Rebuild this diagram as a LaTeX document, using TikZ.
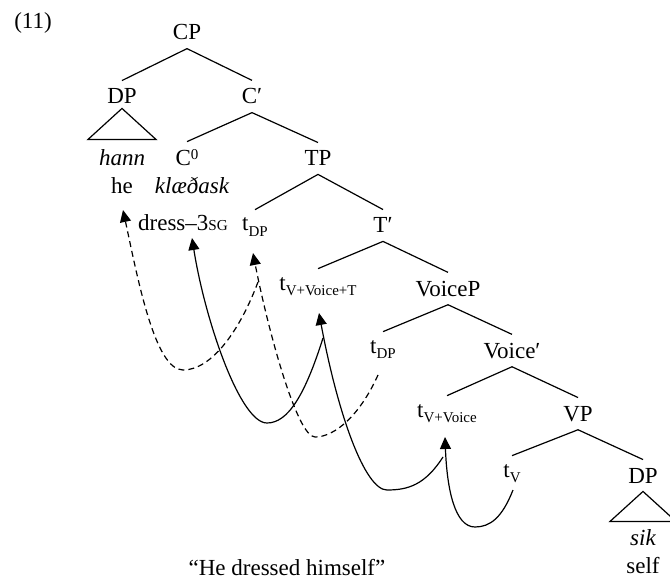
\documentclass[tikz,border=0pt]{standalone}
\usepackage{fontspec}
\setmainfont{Liberation Serif}
\usetikzlibrary{arrows.meta,calc}
\newcommand\sbs[1]{\raisebox{-2.6pt}{\fontsize{7.5}{8}\selectfont #1}}
\newcommand\sps[1]{\raisebox{3pt}{\fontsize{7.5}{8}\selectfont #1}}
\newcommand\smcap[1]{{\fontsize{7.6}{8}\selectfont #1}}
\begin{document}
\begin{tikzpicture}[x=0.5pt,y=-0.5pt,
  lab/.style={anchor=base,inner xsep=0pt,inner ysep=4pt,font=\fontsize{11.5}{13}\selectfont},
  edge/.style={line width=0.6pt},
  mov/.style={line width=0.6pt,-{Triangle[length=6pt,width=5.5pt]}},
  movd/.style={mov,dash pattern=on 3pt off 2pt}]
\path[use as bounding box] (0,0) rectangle (670,583);

\node[lab] (ex) at (33,29) {(11)};
\node[lab] (CP) at (187,40) {CP};
\node[lab] (DP1) at (122,104) {DP};
\node[lab] (Cbar) at (252,104) {C′};
\node[lab] (hann) at (122,166) {\itshape hann};
\node[lab] (C0) at (187,166) {C\sps{0}};
\node[lab] (TP) at (318,166) {TP};
\node[lab] (he) at (122,194) {he};
\node[lab] (kl) at (192,194) {\itshape klæðask};
\node[lab] (dress) at (183,230) {dress–3\smcap{SG}};
\node[lab] (tDPa) at (255,231) {t\sbs{DP}};
\node[lab] (Tbar) at (383,233) {T′};
\node[lab] (tVVT) at (318,290) {t\sbs{V+Voice+T}};
\node[lab] (VoiceP) at (448,296) {VoiceP};
\node[lab] (tDPb) at (383,353) {t\sbs{DP}};
\node[lab] (Voicebar) at (512,358) {Voice′};
\node[lab] (tVV) at (447,417) {t\sbs{V+Voice}};
\node[lab] (VP) at (578,421) {VP};
\node[lab] (tV) at (512,477) {t\sbs{V}};
\node[lab] (DP2) at (643,483) {DP};
\node[lab] (sik) at (643,545) {\itshape sik};
\node[lab] (self) at (643,573) {self};
\node[lab] (gloss) at (287,575) {“He dressed himself”};

% tree edges
\draw[edge] (CP.south) -- (DP1.north);
\draw[edge] (CP.south) -- (Cbar.north);
\draw[edge] (Cbar.south) -- (C0.north);
\draw[edge] (Cbar.south) -- (TP.north);
\draw[edge] (TP.south) -- (tDPa.north);
\draw[edge] (TP.south) -- (Tbar.north);
\draw[edge] (Tbar.south) -- (tVVT.north);
\draw[edge] (Tbar.south) -- (VoiceP.north);
\draw[edge] (VoiceP.south) -- (tDPb.north);
\draw[edge] (VoiceP.south) -- (Voicebar.north);
\draw[edge] (Voicebar.south) -- (tVV.north);
\draw[edge] (Voicebar.south) -- (VP.north);
\draw[edge] (VP.south) -- (tV.north);
\draw[edge] (VP.south) -- (DP2.north);
\draw[edge] ($(DP1.south)+(0,-4)$) -- ++(-34,31) -- ++(68,0) -- cycle;
\draw[edge] (DP2.south) -- ++(-33,30) -- ++(66,0) -- cycle;

% movement
\coordinate (bA) at (315,437);
\coordinate (bB) at (183,370);
\coordinate (bC) at (267,423);
\coordinate (bD) at (387,490);
\coordinate (bE) at (475,527);
\draw[movd] ($(tDPb.base)+(-5,22)$) .. controls (360,415) and (335,437) .. (bA)
  .. controls (297,437) and (268,330) .. ($(tDPa.base)+(-2,22)$);
\draw[movd] ($(tDPa.base)+(3,51)$) .. controls (240,330) and (212,370) .. (bB)
  .. controls (155,370) and (138,280) .. ($(he.base)+(1,16)$);
\draw[mov] ($(tVVT.base)+(5,48)$) .. controls (305,395) and (288,423) .. (bC)
  .. controls (240,423) and (205,320) .. ($(dress.base)+(9,8)$);
\draw[mov] ($(tVV.base)+(-4,40)$) .. controls (425,485) and (408,490) .. (bD)
  .. controls (365,490) and (338,415) .. ($(tVVT.base)+(1,23)$);
\draw[mov] ($(tV.base)+(1,13)$) .. controls (502,518) and (490,527) .. (bE)
  .. controls (455,527) and (447,490) .. ($(tVV.base)+(-2,20)$);
\end{tikzpicture}
\end{document}
